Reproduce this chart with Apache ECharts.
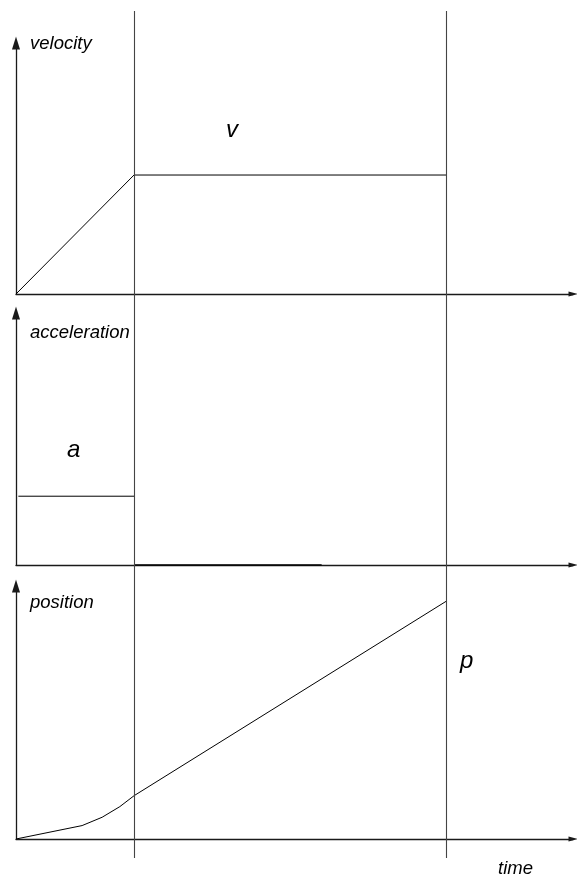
<!DOCTYPE html>
<html>
<head>
<meta charset="utf-8">
<script src="https://cdn.jsdelivr.net/npm/echarts@6/dist/echarts.min.js"></script>
<style>
  html, body { margin: 0; padding: 0; background: #fff; }
  #chart { width: 577px; height: 878px; }
</style>
</head>
<body>
<div id="chart"></div>
<script>
// time markers (arbitrary units) and axis span
const tMax = 47.2;
const phaseTimes = [10, 36.5];          // end of acceleration, end of plot window

// series values, each panel's y axis runs 0..100
const velocityData = [[0, 0], [10, 47.4], [36.5, 47.4]];
const accelData = [[0.2, 27.3], [10, 27.3]];
const accelZeroData = [[10, 0], [25.9, 0]];
const positionData = [[0, 0], [5.6, 5.3], [7.3, 8.6], [8.8, 12.8], [10, 17.1], [36.5, 94.1]];

const axisNames = ['velocity', 'acceleration', 'position'];
const curveLabels = ['v', 'a', 'p'];

const chart = echarts.init(document.getElementById('chart'));

const axisColor = '#1a1a1a';
const grids = [
  { left: 16, right: 4, top: 43, bottom: 584 },
  { left: 16, right: 4, top: 313, bottom: 313 },
  { left: 16, right: 4, top: 586, bottom: 39 },
  { left: 16, right: 4, top: 11, bottom: 20 }   // overlay for the phase lines
];

const xAxes = grids.map((g, i) => ({
  type: 'value', gridIndex: i, min: 0, max: tMax,
  show: i < 3,
  axisLine: {
    show: true, onZero: false,
    lineStyle: { color: axisColor, width: 1.3 },
    symbol: ['none', 'triangle'], symbolSize: [5, 9]
  },
  axisTick: { show: false }, axisLabel: { show: false }, splitLine: { show: false }
}));

const yAxes = grids.map((g, i) => ({
  type: 'value', gridIndex: i, min: 0, max: 100,
  show: i < 3,
  axisLine: {
    show: true, onZero: false,
    lineStyle: { color: axisColor, width: 1.3 },
    symbol: ['none', 'triangle'], symbolSize: [8, 13]
  },
  axisTick: { show: false }, axisLabel: { show: false }, splitLine: { show: false }
}));

const lineStyle = { color: '#000', width: 1 };
const mk = (data, idx, extra) => Object.assign({
  type: 'line', data, xAxisIndex: idx, yAxisIndex: idx,
  symbol: 'none', lineStyle, silent: true
}, extra || {});

const series = [
  mk(velocityData, 0),
  mk(accelData, 1),
  mk(accelZeroData, 1, { lineStyle: { color: '#000', width: 1.5 } }),
  mk(positionData, 2),
  {
    type: 'line', data: [], xAxisIndex: 3, yAxisIndex: 3, silent: true,
    markLine: {
      symbol: 'none', silent: true, label: { show: false },
      lineStyle: { color: '#444', width: 1.1, type: 'solid' },
      data: phaseTimes.map(t => ({ xAxis: t }))
    }
  }
];

const italic = (size) => `italic ${size}px "Liberation Sans", Arial, sans-serif`;
const txt = (text, x, y, size) => ({
  type: 'text', x, y, silent: true,
  style: { text, fill: '#000', font: italic(size), textVerticalAlign: 'middle' }
});

chart.setOption({
  animation: false,
  backgroundColor: '#fff',
  grid: grids,
  xAxis: xAxes,
  yAxis: yAxes,
  series,
  graphic: [
    txt(axisNames[0], 30, 44, 18.5),
    txt(axisNames[1], 30, 333, 18.5),
    txt(axisNames[2], 30, 603, 18.5),
    txt('time', 498, 868.5, 18.5),
    txt(curveLabels[0], 226, 130, 24),
    txt(curveLabels[1], 67, 450, 24),
    txt(curveLabels[2], 460, 661, 24)
  ]
});
</script>
</body>
</html>
